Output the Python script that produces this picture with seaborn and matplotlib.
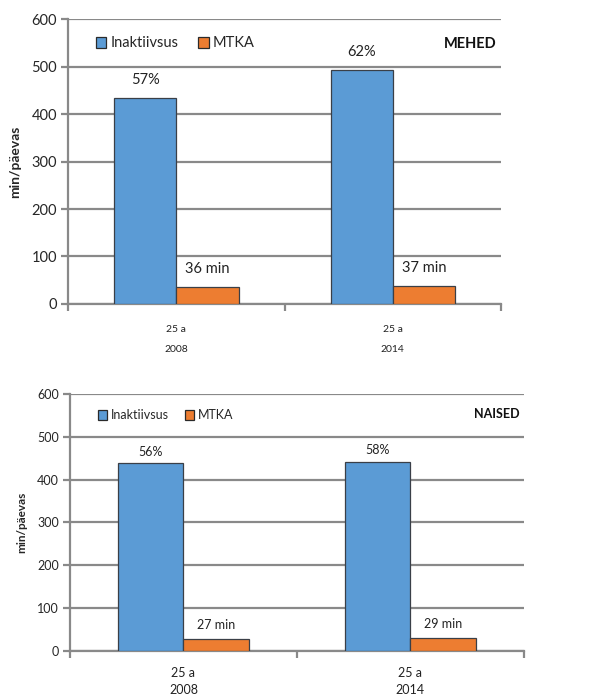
import matplotlib
matplotlib.use("Agg")
import matplotlib.pyplot as plt
from matplotlib.ticker import FixedLocator
import seaborn as sns
import pandas as pd

sns.set_theme(style="white")
plt.rcParams["font.family"] = ["Lato", "DejaVu Sans"]

# Data
years = ["2008", "2014"]
age_group = "25 a"
series = ["Inaktiivsus", "MTKA"]
mehed_inakt = [433, 492]
mehed_mtka = [36, 37]
mehed_pct = ["57%", "62%"]
naised_inakt = [438, 441]
naised_mtka = [27, 29]
naised_pct = ["56%", "58%"]

colors = {"Inaktiivsus": "#5B9BD5", "MTKA": "#ED7D31"}
grid_c = "#898989"


def make_df(inakt, mtka):
    rows = []
    for y, a, m in zip(years, inakt, mtka):
        rows.append({"aasta": y, "näitaja": "Inaktiivsus", "min": a})
        rows.append({"aasta": y, "näitaja": "MTKA", "min": m})
    return pd.DataFrame(rows)


def draw(ax, inakt, mtka, pct, title, title_y, fs_tick, fs_x, xspacing,
         xpad, off_pct, off_min):
    df = make_df(inakt, mtka)
    sns.barplot(data=df, x="aasta", y="min", hue="näitaja", order=years,
                hue_order=series, palette=colors, width=0.575,
                edgecolor="#3a3f47", linewidth=0.9, saturation=1, ax=ax,
                zorder=3)
    ax.set_ylim(0, 600)
    ax.set_xlim(-0.5, 1.5)
    ax.set_yticks(range(0, 601, 100))
    ax.yaxis.grid(True, color=grid_c, linewidth=1.6, zorder=0)
    ax.set_axisbelow(True)
    for s in ["top", "right"]:
        ax.spines[s].set_visible(False)
    for s in ["left", "bottom"]:
        ax.spines[s].set_color(grid_c)
        ax.spines[s].set_linewidth(1.6)
    ax.tick_params(axis="y", length=5, width=1.6, color=grid_c,
                   labelsize=fs_tick, pad=3, left=True)
    ax.set_xticks([0, 1])
    ax.set_xticklabels([f"{age_group}\n{y}" for y in years], fontsize=fs_x,
                       linespacing=xspacing, color="#222222")
    ax.tick_params(axis="x", length=0, pad=xpad)
    ax.xaxis.set_minor_locator(FixedLocator([-0.5, 0.5, 1.5]))
    ax.tick_params(axis="x", which="minor", length=5, width=1.6,
                   color=grid_c, bottom=True)
    ax.set_xlabel("")
    ax.set_ylabel("min/päevas", fontweight="bold", fontsize=fs_tick - 0.5,
                  labelpad=7)

    # value labels
    bars_inakt = ax.containers[0]
    bars_mtka = ax.containers[1]
    for b, t in zip(bars_inakt, pct):
        ax.annotate(t, (b.get_x() + b.get_width() / 2, b.get_height()),
                    xytext=(0, off_pct), textcoords="offset points",
                    ha="center", va="bottom", fontsize=fs_tick, color="#222222")
    for b, v in zip(bars_mtka, mtka):
        ax.annotate(f"{v} min", (b.get_x() + b.get_width() / 2, b.get_height()),
                    xytext=(0, off_min), textcoords="offset points",
                    ha="center", va="bottom", fontsize=fs_tick, color="#222222")

    leg = ax.legend(loc="upper left", bbox_to_anchor=(0.05, 0.96), ncol=2,
                    frameon=False, fontsize=fs_tick, handlelength=0.75,
                    handleheight=0.75, handletextpad=0.3, columnspacing=1.3,
                    borderaxespad=0)
    for h in leg.legend_handles:
        h.set_edgecolor("#2a2a2a")
        h.set_linewidth(0.9)
    ax.text(0.99, title_y, title, transform=ax.transAxes, ha="right",
            va="center", fontsize=fs_tick, fontweight="bold", color="#111111")


fig = plt.figure(figsize=(6.10, 6.99), dpi=100)
ax1 = fig.add_axes([0.1115, 0.5651, 0.710, 0.4077])
ax2 = fig.add_axes([0.1148, 0.0691, 0.744, 0.3672])

draw(ax1, mehed_inakt, mehed_mtka, mehed_pct, "MEHED", 0.912,
     10.5, 7.5, 2.6, 15, 8, 8)
draw(ax2, naised_inakt, naised_mtka, naised_pct, "NAISED", 0.922,
     9, 9, 1.45, 12, 4, 6)

fig.savefig("out.png", dpi=100, facecolor="white")
